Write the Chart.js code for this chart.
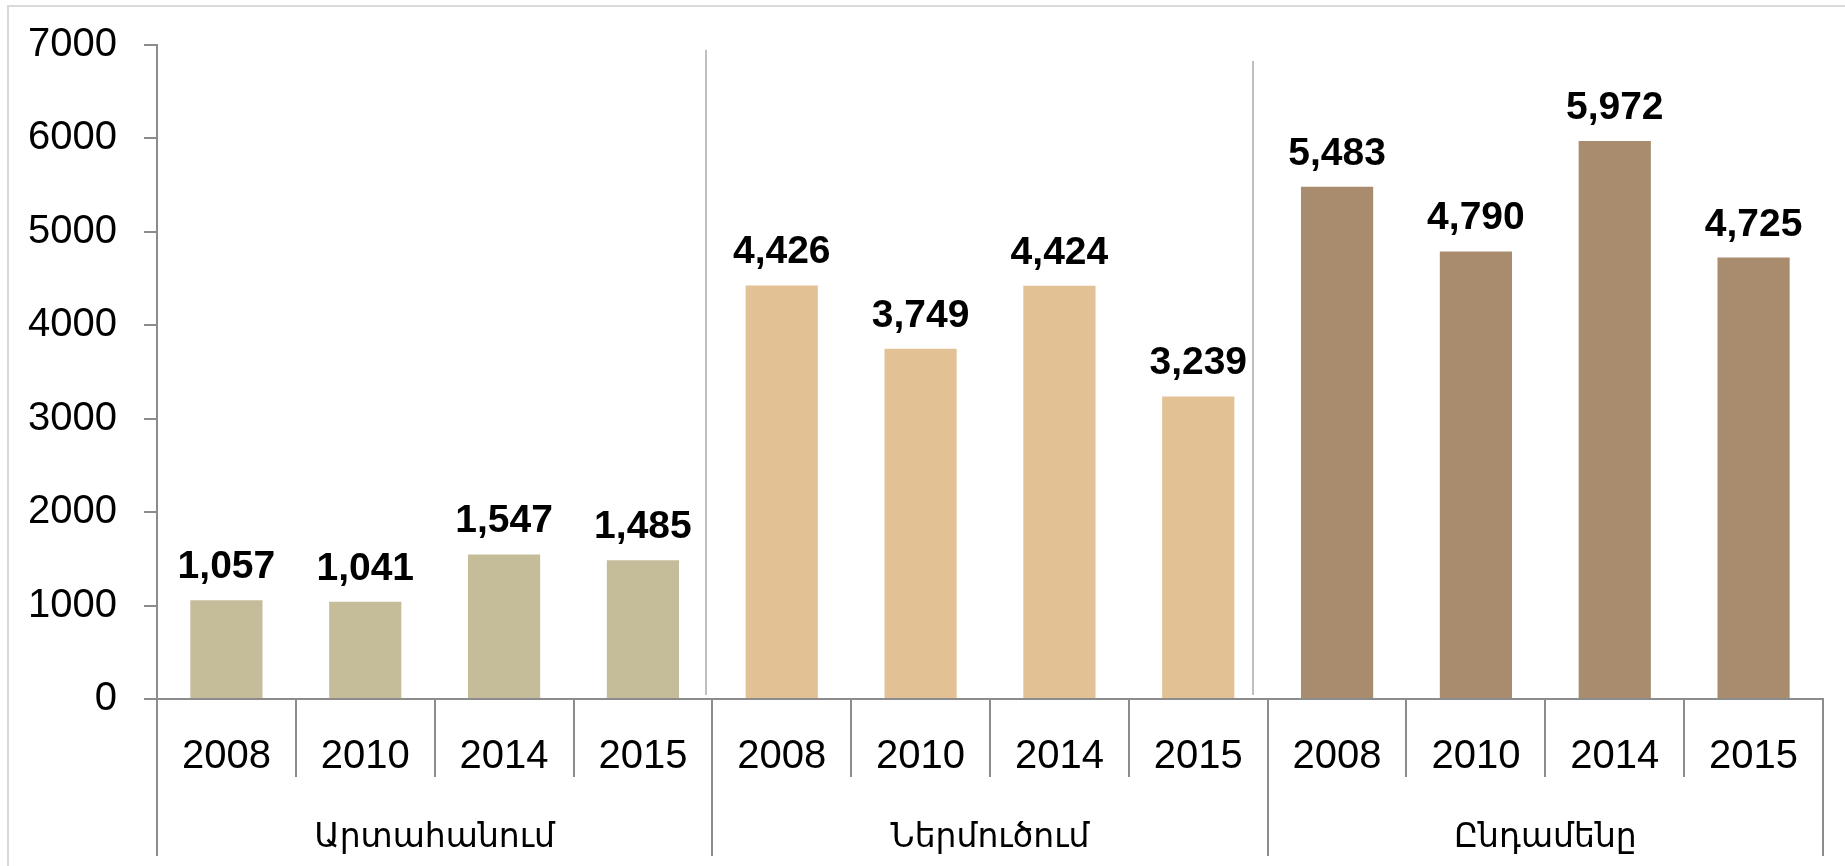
<!DOCTYPE html>
<html><head><meta charset="utf-8">
<script src="https://cdn.jsdelivr.net/npm/chart.js@4.4.1/dist/chart.umd.min.js"></script>
<style>
html,body{margin:0;padding:0;background:#fff;overflow:hidden;}
#frame{position:absolute;left:7px;top:5px;width:2000px;height:2000px;border:2px solid #d9d9d9;}
#wrap{position:absolute;left:0;top:0;width:1845px;height:866px;}
</style></head><body>
<div id="frame"></div>
<div id="wrap"><canvas id="c" width="1845" height="866"></canvas></div>
<script>
// ---- data ----
const groups = ['Արտահանում', 'Ներմուծում', 'Ընդամենը'];
const years = ['2008', '2010', '2014', '2015'];
const exportValues = [1057, 1041, 1547, 1485];
const importValues = [4426, 3749, 4424, 3239];
const totalValues = [5483, 4790, 5972, 4725];
const yTickValues = [0, 1000, 2000, 3000, 4000, 5000, 6000, 7000];

// ---- styles ----
const groupColors = ['#C5BD99', '#E2C195', '#A98C6E'];
const axisColor = '#8c8c8c';
const tickFont = {family: "'Liberation Sans', Arial, sans-serif", size: 40};
const labelFont = "bold 39px 'Liberation Sans', Arial, sans-serif";
const groupFont = "33px 'DejaVu Sans', 'Liberation Sans', sans-serif";

const seriesByGroup = [exportValues, importValues, totalValues];
const labels = [];
const values = [];
const colors = [];
seriesByGroup.forEach((arr, g) => {
  arr.forEach((v, i) => {
    labels.push(years[i]);
    values.push(v);
    colors.push(groupColors[g]);
  });
});

const decor = {
  id: 'decor',
  afterDatasetsDraw(chart) {
    const ctx = chart.ctx;
    const meta = chart.getDatasetMeta(0);
    ctx.save();
    ctx.font = labelFont;
    ctx.fillStyle = '#000';
    ctx.textAlign = 'center';
    ctx.textBaseline = 'alphabetic';
    meta.data.forEach((bar, i) => {
      const v = chart.data.datasets[0].data[i];
      ctx.fillText(v.toLocaleString('en-US'), bar.x, bar.y - 22);
    });
    ctx.restore();
  },
  afterDraw(chart) {
    const ctx = chart.ctx;
    const xs = chart.scales.x;
    const ys = chart.scales.y;
    const area = chart.chartArea;
    const n = labels.length;
    const per = years.length;
    const half = (xs.getPixelForValue(1) - xs.getPixelForValue(0)) / 2;
    ctx.save();
    ctx.strokeStyle = axisColor;
    ctx.lineWidth = 2;
    // category dividers below axis
    for (let i = 0; i <= n; i++) {
      const px = i < n ? xs.getPixelForValue(i) - half : xs.getPixelForValue(n - 1) + half;
      const isGroupEdge = i % per === 0;
      const len = isGroupEdge ? 157 : 78;
      ctx.beginPath();
      ctx.moveTo(Math.round(px), area.bottom);
      ctx.lineTo(Math.round(px), area.bottom + len);
      ctx.stroke();
    }
    // group labels
    ctx.font = groupFont;
    ctx.fillStyle = '#000';
    ctx.textAlign = 'center';
    ctx.textBaseline = 'middle';
    groups.forEach((g, gi) => {
      const cx = (xs.getPixelForValue(gi * per) + xs.getPixelForValue(gi * per + per - 1)) / 2;
      ctx.fillText(g, cx, area.bottom + 139);
    });
    // separators inside plot
    const sepStyle = [{dx: -6, topVal: 6950}, {dx: -15, topVal: 6830}];
    ctx.strokeStyle = '#bfbfbf';
    ctx.lineWidth = 2;
    for (let gi = 1; gi < groups.length; gi++) {
      const b = xs.getPixelForValue(gi * per) - half;
      const s = sepStyle[gi - 1];
      ctx.beginPath();
      ctx.moveTo(Math.round(b + s.dx), ys.getPixelForValue(s.topVal));
      ctx.lineTo(Math.round(b + s.dx), area.bottom - 4);
      ctx.stroke();
    }
    ctx.restore();
  }
};

new Chart(document.getElementById('c'), {
  type: 'bar',
  data: {
    labels: labels,
    datasets: [{
      data: values,
      backgroundColor: colors,
      borderWidth: 0,
      categoryPercentage: 1,
      barPercentage: 0.52
    }]
  },
  options: {
    responsive: false,
    animation: false,
    devicePixelRatio: 1,
    layout: {padding: {top: 45, right: 22, bottom: 0, left: 0}},
    plugins: {legend: {display: false}, tooltip: {enabled: false}, title: {display: false}},
    scales: {
      x: {
        type: 'category',
        offset: true,
        grid: {display: false},
        border: {display: true, color: axisColor, width: 2},
        ticks: {font: tickFont, color: '#000', padding: 26, maxRotation: 0, autoSkip: false},
        afterFit(scale) { scale.height = 167; }
      },
      y: {
        min: 0,
        max: 7000,
        afterBuildTicks(scale) { scale.ticks = yTickValues.map(v => ({value: v})); },
        grid: {display: true, drawOnChartArea: false, drawTicks: true, tickLength: 13, color: axisColor, lineWidth: 2},
        border: {display: true, color: axisColor, width: 2},
        ticks: {font: tickFont, color: '#000', padding: 27, callback: v => String(v)},
        afterFit(scale) { scale.width = 157; scale.paddingTop = 0; scale.paddingBottom = 0; }
      }
    }
  },
  plugins: [decor]
});
</script>
</body></html>
